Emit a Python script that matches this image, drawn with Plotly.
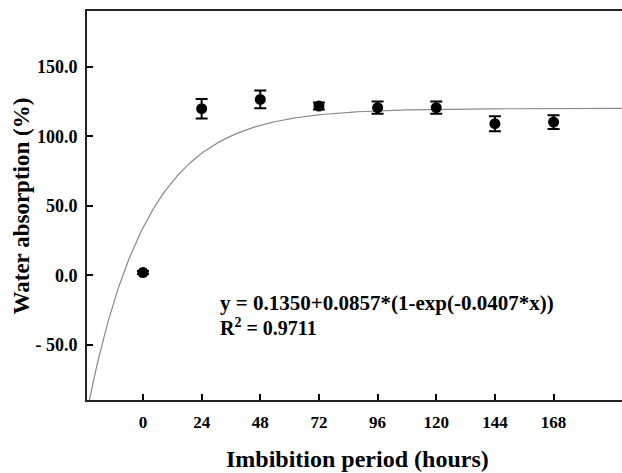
import numpy as np
import plotly.graph_objects as go

# Data
hours = [0, 24, 48, 72, 96, 120, 144, 168]
absorption = [2.1, 119.8, 126.5, 121.7, 120.5, 120.5, 109.0, 110.2]
err = [1.0, 7.0, 6.3, 2.5, 4.4, 4.4, 5.4, 4.9]

x_ticks = [0, 24, 48, 72, 96, 120, 144, 168]
y_ticks = [-50, 0, 50, 100, 150]
y_ticktext = ["- 50.0", "0.0", "50.0", "100.0", "150.0"]

# Fitted curve parameters (as plotted): y = a + b*(1-exp(-k*x))
fit_a = 34.3
fit_b = 85.7
fit_k = 0.0407
eq_line1 = "y = 0.1350+0.0857*(1-exp(-0.0407*x))"
eq_line2 = "R<sup>2</sup> = 0.9711"

x_range = [-22.9, 196]
y_range = [-89.5, 190]

xc = np.linspace(x_range[0], x_range[1], 400)
yc = fit_a + fit_b * (1 - np.exp(-fit_k * xc))

FONT = "Liberation Serif"

fig = go.Figure()
fig.add_trace(go.Scatter(x=xc, y=yc, mode="lines",
                         line=dict(color="#8a8a8a", width=1.2),
                         hoverinfo="skip", showlegend=False))
fig.add_trace(go.Scatter(
    x=hours, y=absorption, mode="markers",
    marker=dict(color="black", size=11),
    error_y=dict(type="data", array=err, visible=True, color="black",
                 thickness=2, width=6),
    showlegend=False, cliponaxis=False))

fig.add_annotation(x=30.8, y=-19.6, xref="x", yref="y", xanchor="left", yanchor="middle",
                   text="<b>" + eq_line1 + "</b>", showarrow=False, align="left",
                   font=dict(family=FONT, size=21, color="black"))
fig.add_annotation(x=30.8, y=-37.0, xref="x", yref="y", xanchor="left", yanchor="middle",
                   text="<b>" + eq_line2 + "</b>", showarrow=False, align="left",
                   font=dict(family=FONT, size=20, color="black"))

fig.add_annotation(x=0.505, y=-0.1517, xref="paper", yref="paper",
                   xanchor="center", yanchor="middle",
                   text="<b>Imbibition period (hours)</b>", showarrow=False,
                   font=dict(family=FONT, size=24, color="black"))
fig.add_annotation(x=-0.1215, y=0.5, xref="paper", yref="paper",
                   xanchor="center", yanchor="middle", textangle=-90,
                   text="<b>Water absorption (%)</b>", showarrow=False,
                   font=dict(family=FONT, size=23, color="black"))

fig.update_layout(
    width=622, height=473,
    margin=dict(l=87, r=0, t=11, b=73),
    plot_bgcolor="white", paper_bgcolor="white",
    font=dict(family=FONT, size=17, color="black"),
    xaxis=dict(range=x_range, tickvals=x_ticks, ticks="inside", ticklen=6,
               tickwidth=1.5, tickcolor="black", showline=True, linewidth=2,
               linecolor="#222", mirror=True, showgrid=False, zeroline=False,
               ticklabelstandoff=6,
               tickfont=dict(family=FONT, size=17, weight="bold")),
    yaxis=dict(range=y_range, tickvals=y_ticks, ticktext=y_ticktext,
               ticks="inside", ticklen=6, tickwidth=1.5, tickcolor="black",
               showline=True, linewidth=2, linecolor="#222", mirror=False,
               showgrid=False, zeroline=False, ticklabelstandoff=4,
               tickfont=dict(family=FONT, size=18, weight="bold")),
)

fig.write_html("out.html", config={"displayModeBar": False},
               post_script="document.body.style.margin='0px';")
